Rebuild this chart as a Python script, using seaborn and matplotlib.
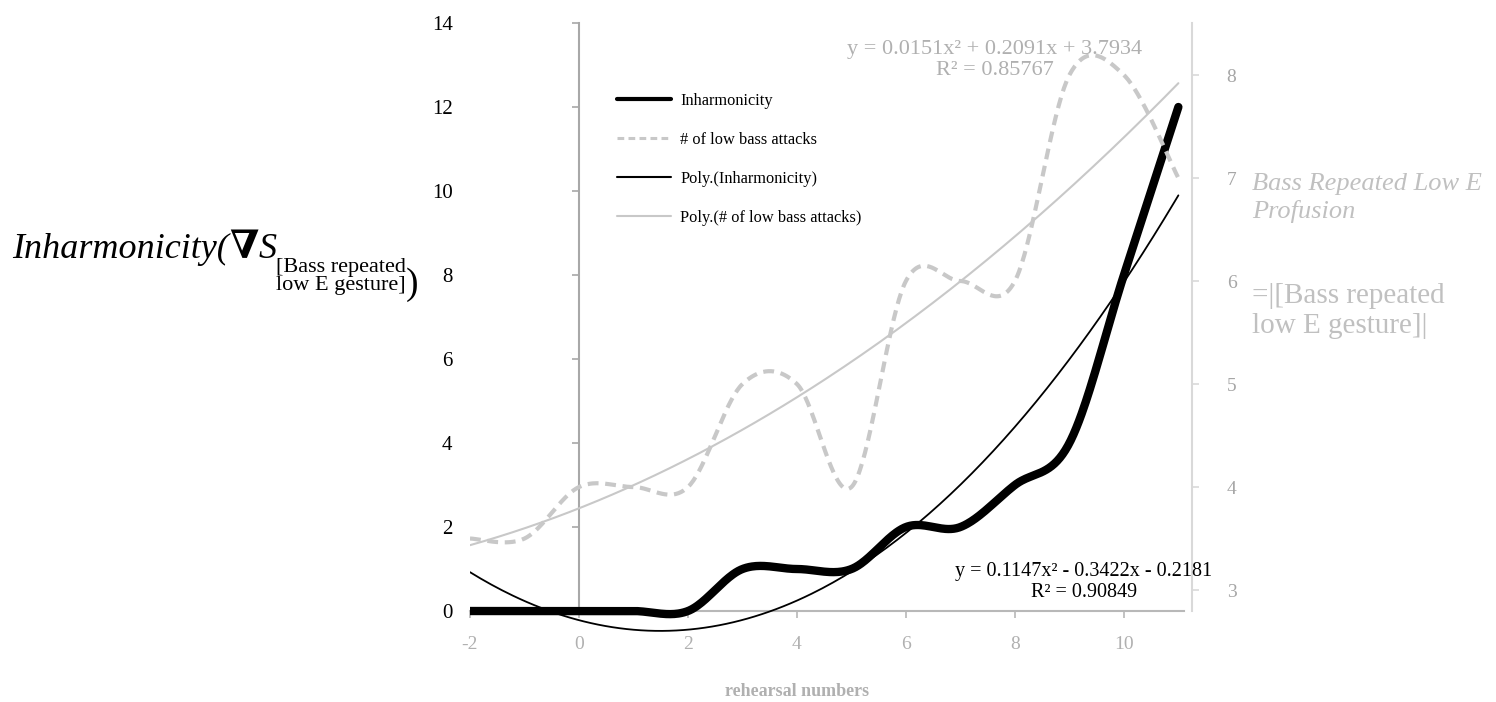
import numpy as np
import pandas as pd
import matplotlib
matplotlib.use('Agg')
import matplotlib.pyplot as plt
import seaborn as sns
from matplotlib.lines import Line2D
from matplotlib.transforms import IdentityTransform

sns.set_style('white')
plt.rcParams['font.family'] = ['Liberation Serif', 'DejaVu Serif']
plt.rcParams['axes.unicode_minus'] = False
plt.rcParams['text.color'] = 'black'

# data
rehearsal = [-2, -1, 0, 1, 2, 3, 4, 5, 6, 7, 8, 9, 10, 11]
inharmonicity = [0, 0, 0, 0, 0, 1, 1, 1, 2, 2, 3, 4, 8, 12]
low_bass_attacks = [3.5, 3.5, 4, 4, 4, 5, 5, 4, 6, 6, 6, 8, 8, 7]

# trendline coefficients as printed on the chart
inh_coef = [0.1147, -0.3422, -0.2181]
inh_r2 = 0.90849
bass_coef = [0.0151, 0.2091, 3.7934]
bass_r2 = 0.85767

left_ticks = [0, 2, 4, 6, 8, 10, 12, 14]
right_ticks = [3, 4, 5, 6, 7, 8]
x_ticks = [-2, 0, 2, 4, 6, 8, 10]

W, H = 1496, 702
BLACK = '#000000'
GREY = '#c8c8c8'
AXGREY = '#a8a8a8'
TXTGREY = '#b0b0b0'


def smooth(x, y, steps=40):
    """Excel-like smoothed line (Catmull-Rom through the points)"""
    x = np.asarray(x, float)
    y = np.asarray(y, float)
    px = np.r_[x[0], x, x[-1]]
    py = np.r_[y[0], y, y[-1]]
    xs, ys = [], []
    n = len(x)
    for i in range(1, n):
        t = np.linspace(0, 1, steps, endpoint=(i == n - 1))
        for p, out in ((px, xs), (py, ys)):
            p0, p1, p2, p3 = p[i - 1], p[i], p[i + 1], p[i + 2]
            out.append(0.5 * (2 * p1 + (-p0 + p2) * t
                              + (2 * p0 - 5 * p1 + 4 * p2 - p3) * t ** 2
                              + (-p0 + 3 * p1 - 3 * p2 + p3) * t ** 3))
    return np.concatenate(xs), np.concatenate(ys)


df = pd.DataFrame({'rehearsal': rehearsal,
                   'inharmonicity': inharmonicity,
                   'bass': low_bass_attacks})

fig = plt.figure(figsize=(W / 100, H / 100), dpi=100)
ax = fig.add_axes([470 / W, 1 - 640 / H, 722 / W, 617 / H])
ax2 = ax.twinx()

# smoothed series
sx, sy = smooth(df['rehearsal'], df['inharmonicity'])
sns.lineplot(x=sx, y=sy, ax=ax, sort=False, estimator=None,
             color=BLACK, linewidth=6, solid_capstyle='round', zorder=4)
bx, by = smooth(df['rehearsal'], df['bass'])
sns.lineplot(x=bx, y=by, ax=ax2, sort=False, estimator=None,
             color=GREY, linewidth=3, linestyle=(0, (2.6, 1.6)))

# polynomial trendlines
tx = np.linspace(df['rehearsal'].min(), df['rehearsal'].max(), 200)
sns.lineplot(x=tx, y=np.polyval(inh_coef, tx), ax=ax, sort=False,
             estimator=None, color=BLACK, linewidth=1.3, zorder=4)
sns.lineplot(x=tx, y=np.polyval(bass_coef, tx), ax=ax2, sort=False,
             estimator=None, color=GREY, linewidth=1.5)

# left axis (crosses at x = 0, labels kept low)
ax.set_xlim(-2, 11.25)
ax.set_ylim(-0.69, 14)
ax.set_yticks(left_ticks)
ax.set_xticks(x_ticks)
for s in ['top', 'right']:
    ax.spines[s].set_visible(False)
ax.spines['left'].set_position(('data', 0))
ax.spines['left'].set_bounds(0, 14)
ax.spines['left'].set_color(AXGREY)
ax.spines['left'].set_linewidth(1.5)
ax.spines['bottom'].set_position(('data', 0))
ax.spines['bottom'].set_bounds(-2, 11.1)
ax.spines['bottom'].set_color('#b8b8b8')
ax.spines['bottom'].set_linewidth(1.5)
ax.tick_params(axis='y', direction='out', length=5, width=1.2, color=AXGREY,
               pad=86, labelsize=15, labelcolor='black', left=True)
ax.tick_params(axis='x', direction='out', length=5, width=1.2, color='#b8b8b8',
               pad=13, labelsize=14, labelcolor=TXTGREY, bottom=True)
ax.set_xlabel('')
ax.set_ylabel('')

# right axis
ax2.set_ylim(2.515, 8.505)
ax2.set_yticks(right_ticks)
for s in ['top', 'left', 'bottom']:
    ax2.spines[s].set_visible(False)
ax2.spines['right'].set_bounds(2.796, 8.505)
ax2.spines['right'].set_color('#d9d9d9')
ax2.spines['right'].set_linewidth(1.5)
ax2.tick_params(axis='y', direction='out', length=5, width=1.2, color='#d9d9d9',
                pad=20, labelsize=14, labelcolor='#a6a6a6', right=True)
ax2.set_ylabel('')

# legend
handles = [Line2D([], [], color=BLACK, lw=3),
           Line2D([], [], color=GREY, lw=2.2, linestyle=(0, (2.2, 1.4))),
           Line2D([], [], color=BLACK, lw=1.5),
           Line2D([], [], color=GREY, lw=1.5)]
labels = ['Inharmonicity', '# of low bass attacks',
          'Poly.(Inharmonicity)', 'Poly.(# of low bass attacks)']
leg = ax2.legend(handles, labels, loc='upper left',
                 bbox_to_anchor=(617 / W, 1 - 93 / H), bbox_transform=fig.transFigure,
                 frameon=False, fontsize=11.8, handlelength=3.3, handletextpad=0.55,
                 labelspacing=1.4, borderpad=0, borderaxespad=0)
for txt in leg.get_texts():
    txt.set_color('black')


def put(x, y, s, **kw):
    return fig.text(x, H - y, s, transform=IdentityTransform(), **kw)


# trendline equations
put(995, 60, f'y = {bass_coef[0]}x² + {bass_coef[1]}x + {bass_coef[2]}\nR² = {bass_r2}',
    fontsize=16, color=TXTGREY, ha='center', va='center',
    multialignment='center', linespacing=1.1)
put(1084, 582, f'y = {inh_coef[0]}x² - {abs(inh_coef[1])}x - {abs(inh_coef[2])}\nR² = {inh_r2}',
    fontsize=14.5, color=BLACK, ha='center', va='center',
    multialignment='center', linespacing=1.15)

# axis titles
put(797, 691, 'rehearsal numbers', fontsize=13, weight='bold', color=TXTGREY,
    ha='center', va='center')
put(1252, 198, 'Bass Repeated Low E\nProfusion', fontsize=19, style='italic',
    color='#c0c0c0', ha='left', va='center', linespacing=1.3)
put(1252, 311, '=|[Bass repeated\nlow E gesture]|', fontsize=21,
    color='#c0c0c0', ha='left', va='center')

r = fig.canvas.get_renderer()
t = put(12, 258, 'Inharmonicity(', fontsize=26, style='italic', va='baseline',
        color=BLACK)
x = t.get_window_extent(r).x1
t = put(x, 258, '∇', fontsize=28, weight='bold', va='baseline', color=BLACK)
x = t.get_window_extent(r).x1
t = put(x + 1, 258, 'S', fontsize=26, style='italic', va='baseline', color=BLACK)
x = t.get_window_extent(r).x1
t = put(x - 1, 258, '[Bass repeated\nlow E gesture]', fontsize=16,
        va='top', linespacing=0.95, color=BLACK)
x = t.get_window_extent(r).x1
put(x, 294, ')', fontsize=27, va='baseline', color=BLACK)

fig.savefig('out.png', dpi=100, facecolor='white')
